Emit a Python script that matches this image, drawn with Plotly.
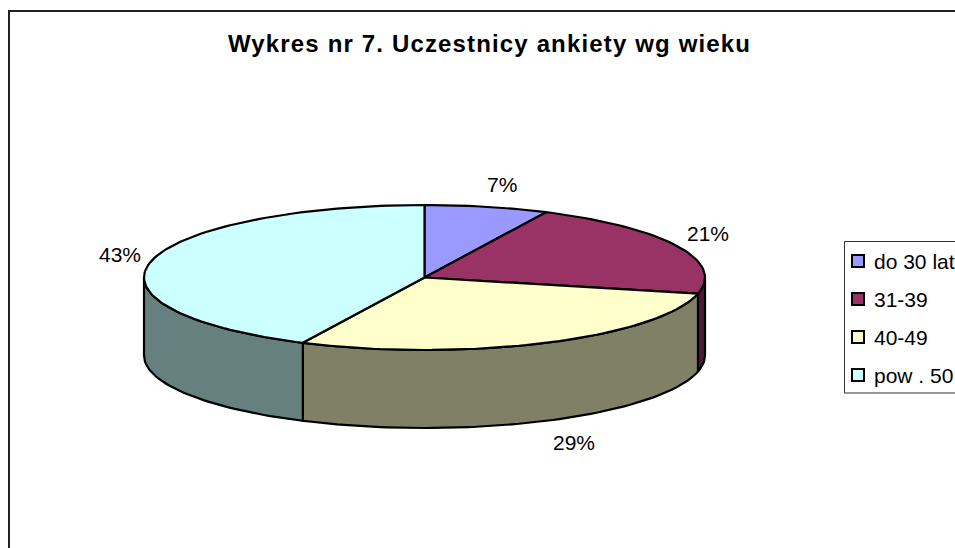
import math
import numpy as np
import plotly.graph_objects as go

title = "Wykres nr 7. Uczestnicy ankiety wg wieku"
categories = ["do 30 lat", "31-39", "40-49", "pow . 50"]
values = [2, 6, 8, 12]
labels = ["7%", "21%", "29%", "43%"]
top_colors = ["#9999FF", "#993366", "#FFFFCC", "#CCFFFF"]
side_colors = ["#4D4D80", "#4D1A33", "#808066", "#668080"]

W, H = 955, 548
CX, CY, RX, RY, DEPTH = 424.5, 277.5, 280.5, 72.5, 78
LABEL_OFFSETS = [(15, -22), (31, -13), (28, 22), (-31, -7)]
LEGEND_Y = [261, 299, 337, 375]
FONT = "Liberation Sans, Arial, sans-serif"


def rim(a0, a1, dy=0):
    n = max(2, int(abs(a1 - a0) / 1.5) + 1)
    t = np.radians(np.linspace(a0, a1, n))
    return (CX + RX * np.sin(t)).tolist(), (CY + dy - RY * np.cos(t)).tolist()


fig = go.Figure()


def poly(xs, ys, fill, width=2.2):
    fig.add_trace(go.Scatter(x=xs, y=ys, mode="lines", fill="toself", fillcolor=fill,
                             line=dict(color="black", width=width), hoverinfo="skip",
                             showlegend=False))


total = sum(values)
angles = [0]
for v in values:
    angles.append(angles[-1] + v / total * 360)

for i in range(len(values)):
    a0, a1 = max(angles[i], 90), min(angles[i + 1], 270)
    if a0 < a1:
        x1, y1 = rim(a0, a1)
        x2, y2 = rim(a1, a0, DEPTH)
        poly(x1 + x2 + x1[:1], y1 + y2 + y1[:1], side_colors[i])

for i in range(len(values)):
    xs, ys = rim(angles[i], angles[i + 1])
    poly([CX] + xs + [CX], [CY] + ys + [CY], top_colors[i])

shapes = [
    dict(type="line", x0=9, x1=9, y0=11, y1=H, line=dict(color="#222222", width=2)),
    dict(type="line", x0=8, x1=W, y0=11, y1=11, line=dict(color="#222222", width=2)),
    dict(type="rect", x0=844.5, x1=W + 5, y0=241.5, y1=393, line=dict(color="#333333", width=1),
         fillcolor="white", layer="below"),
]

fig.add_trace(go.Scatter(
    x=[858] * len(categories), y=LEGEND_Y, mode="markers", hoverinfo="skip", showlegend=False,
    marker=dict(symbol="square", size=12, color=top_colors, line=dict(color="black", width=2)),
))

annotations = [dict(x=489.5, y=43.5, text=f"<b>{title}</b>", showarrow=False,
                    font=dict(family=FONT, size=24, color="black"), xanchor="center", yanchor="middle")]
for i, lab in enumerate(labels):
    mid = math.radians((angles[i] + angles[i + 1]) / 2)
    px = CX + RX * math.sin(mid)
    py = CY - RY * math.cos(mid) + (DEPTH if math.cos(mid) < 0 else 0)
    ox, oy = LABEL_OFFSETS[i]
    annotations.append(dict(x=px + ox, y=py + oy, text=lab, showarrow=False,
                            font=dict(family=FONT, size=21, color="black"),
                            xanchor="center", yanchor="middle"))
for name, y in zip(categories, LEGEND_Y):
    annotations.append(dict(x=872, y=y, text=name, showarrow=False,
                            font=dict(family=FONT, size=21, color="black"),
                            xanchor="left", yanchor="middle"))

fig.update_layout(
    width=W, height=H, margin=dict(l=0, r=0, t=0, b=0),
    paper_bgcolor="white", plot_bgcolor="white", showlegend=False,
    xaxis=dict(range=[0, W], visible=False, fixedrange=True),
    yaxis=dict(range=[H, 0], visible=False, fixedrange=True),
    shapes=shapes, annotations=annotations,
)
fig.write_html("out.html", config=dict(displayModeBar=False),
               post_script="document.body.style.margin='0';document.body.style.overflow='hidden';"
                           "var t=document.querySelector('.annotation-text');"
                           "if(t){t.style.letterSpacing='1.15px';}")
